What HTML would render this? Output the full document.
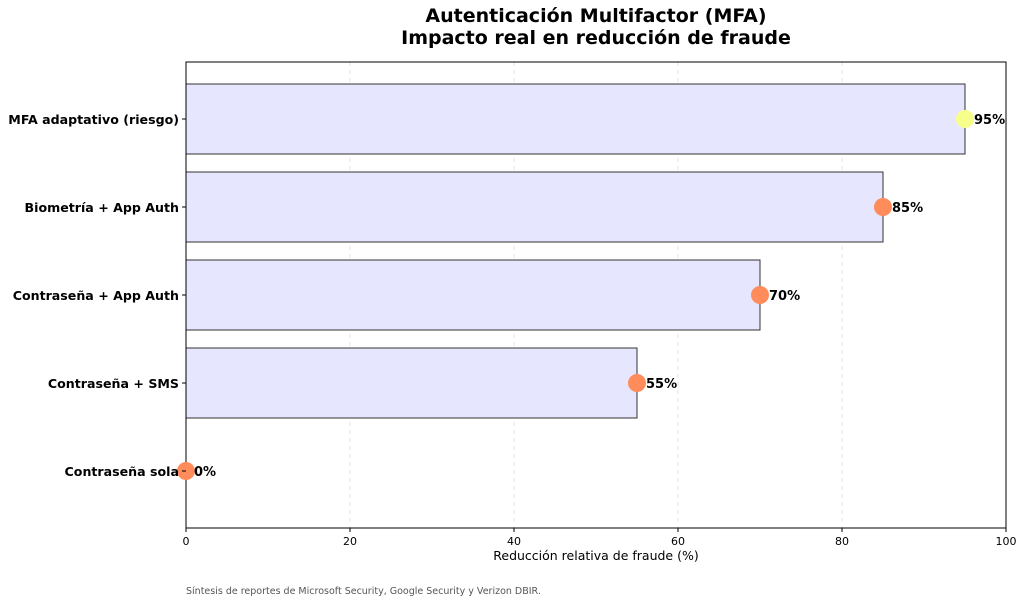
<!DOCTYPE html>
<html><head><meta charset="utf-8"><style>html,body{margin:0;padding:0;background:#fff}svg{display:block}</style></head>
<body>
<svg width="1024" height="603" viewBox="0 0 1024 603" xmlns="http://www.w3.org/2000/svg" font-family="'DejaVu Sans','Liberation Sans',sans-serif">
<rect width="1024" height="603" fill="#fff"/>
<text x="596" y="22" text-anchor="middle" font-size="19" font-weight="bold">Autenticación Multifactor (MFA)</text>
<text x="596" y="44" text-anchor="middle" font-size="19" font-weight="bold">Impacto real en reducción de fraude</text>
<g stroke="#ddd" stroke-dasharray="4,4" stroke-width="0.8">
<line x1="350" y1="62" x2="350" y2="528"/><line x1="514" y1="62" x2="514" y2="528"/><line x1="678" y1="62" x2="678" y2="528"/><line x1="842" y1="62" x2="842" y2="528"/>
</g>
<g fill="#e6e6ff" stroke="#333" stroke-width="1">
<rect x="186" y="84" width="779" height="70"/>
<rect x="186" y="172" width="697" height="70"/>
<rect x="186" y="260" width="574" height="70"/>
<rect x="186" y="348" width="451" height="70"/>
<line x1="186" y1="436" x2="186" y2="506"/>
</g>
<rect x="186" y="62" width="820" height="466" fill="none" stroke="#000" stroke-width="1"/>
<g fill="#ff8c5a">
<circle cx="965" cy="119" r="9" fill="#f5ff8a"/>
<circle cx="883" cy="207" r="9"/>
<circle cx="760" cy="295" r="9"/>
<circle cx="637" cy="383" r="9"/>
<circle cx="186" cy="471" r="9"/>
</g>
<g font-size="13" font-weight="bold">
<text x="974" y="124">95%</text><text x="892" y="212">85%</text><text x="769" y="300">70%</text><text x="646" y="388">55%</text><text x="194" y="476">0%</text>
</g>
<g font-size="12.6" font-weight="bold" text-anchor="end">
<text x="179" y="124">MFA adaptativo (riesgo)</text>
<text x="179" y="212">Biometría + App Auth</text>
<text x="179" y="300">Contraseña + App Auth</text>
<text x="179" y="388">Contraseña + SMS</text>
<text x="179" y="476">Contraseña sola</text>
</g>
<g stroke="#000"><line x1="182" y1="119" x2="186" y2="119"/><line x1="182" y1="207" x2="186" y2="207"/><line x1="182" y1="295" x2="186" y2="295"/><line x1="182" y1="383" x2="186" y2="383"/><line x1="182" y1="471" x2="186" y2="471"/>
<line x1="186" y1="528" x2="186" y2="532"/><line x1="350" y1="528" x2="350" y2="532"/><line x1="514" y1="528" x2="514" y2="532"/><line x1="678" y1="528" x2="678" y2="532"/><line x1="842" y1="528" x2="842" y2="532"/><line x1="1006" y1="528" x2="1006" y2="532"/></g>
<g font-size="11" text-anchor="middle">
<text x="186" y="545">0</text><text x="350" y="545">20</text><text x="514" y="545">40</text><text x="678" y="545">60</text><text x="842" y="545">80</text><text x="1006" y="545">100</text>
</g>
<text x="596" y="560" text-anchor="middle" font-size="12.5">Reducción relativa de fraude (%)</text>
<text x="186" y="594" font-size="9.5" fill="#555">Síntesis de reportes de Microsoft Security, Google Security y Verizon DBIR.</text>
</svg>
</body></html>
